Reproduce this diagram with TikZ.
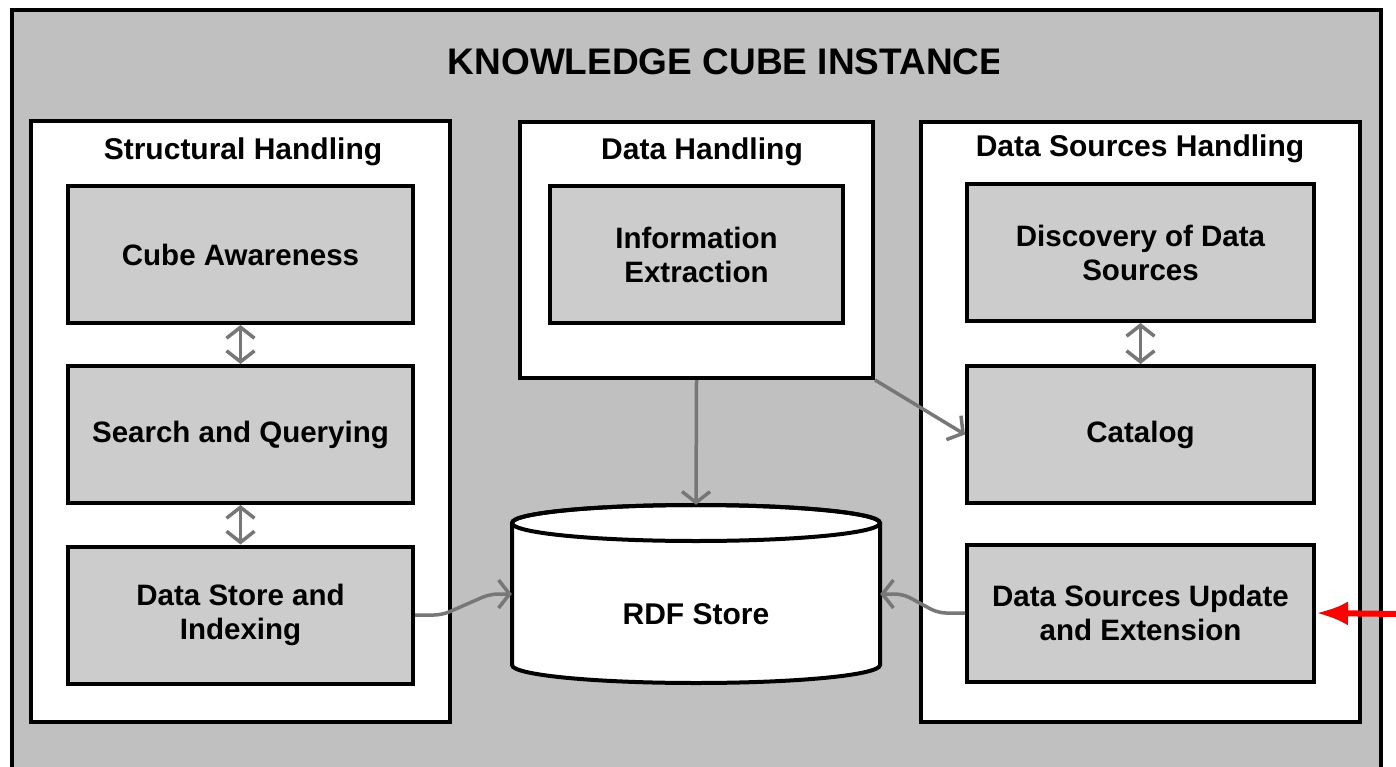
\documentclass[tikz,border=0pt]{standalone}
\usepackage{fontspec}
\setmainfont{Liberation Sans}
\usetikzlibrary{arrows.meta,positioning}
\definecolor{outergrey}{HTML}{C0C0C0}
\definecolor{boxgrey}{HTML}{CCCCCC}
\definecolor{linkgrey}{HTML}{777777}
\tikzset{%
	panel/.style  = {draw, line width=4pt, fill=white, inner sep=0pt},
	module/.style = {draw, line width=4pt, fill=boxgrey, inner sep=0pt, minimum height=137pt, align=center, font=\fontsize{29.5}{34}\selectfont\bfseries},
	head/.style   = {font=\fontsize{30}{34}\selectfont\bfseries},
	bigtitle/.style = {font=\fontsize{37}{44}\selectfont\bfseries},
	barb/.tip     = {Straight Barb[length=11pt,width=28pt]},
	link/.style   = {draw=linkgrey, line width=3.5pt, -barb},
	dlink/.style  = {draw=linkgrey, line width=3.5pt, barb-barb},
	feed/.style   = {draw=red, line width=6pt, -{Latex[length=32pt,width=24pt]}},
}
\begin{document}
\begin{tikzpicture}[x=1pt,y=-1pt]
	\useasboundingbox (0,0) rectangle (1396,767);
	\clip (0,0) rectangle (1396,767);
	% outer frame
	\draw[line width=4pt, fill=outergrey] (12,10) rectangle (1381,800);
	\begin{scope}
		\clip (430,20) rectangle (998,100);
		\node[bigtitle] (title) at (726,62) {KNOWLEDGE CUBE INSTANCE};
	\end{scope}
	% panels
	\node[panel, minimum width=419pt, minimum height=601pt] (sh) at (240.5,421.5) {};
	\node[panel, minimum width=353pt, minimum height=256pt] (dh) at (696.5,250) {};
	\node[panel, minimum width=439pt, minimum height=600pt] (dsh) at (1140.5,422) {};
	\node[head] at (243,152) {Structural Handling};
	\node[head] at (702,152) {Data Handling};
	\node[head] at (1140,149) {Data Sources Handling};
	% modules
	\node[module, minimum width=345pt] (cube) at (240.5,254.5) {Cube Awareness};
	\node[module, minimum width=345pt] (search) at (240.5,434.5) {Search and Querying};
	\node[module, minimum width=345pt] (store) at (240.5,615) {Data Store and\\Indexing};
	\node[module, minimum width=293pt] (extract) at (696.5,254.5) {Information\\Extraction};
	\node[module, minimum width=347pt] (discovery) at (1140.5,252.5) {Discovery of Data\\Sources};
	\node[module, minimum width=347pt] (catalog) at (1140.5,434.5) {Catalog};
	\node[module, minimum width=347pt] (update) at (1140.5,613) {Data Sources Update\\and Extension};
	% rdf store
	\draw[line width=4pt, fill=white] (512,523) -- (512,665) arc[start angle=180, end angle=0, x radius=184, y radius=18] -- (880,523) arc[start angle=0, end angle=-180, x radius=184, y radius=18] -- cycle;
	\draw[line width=4pt] (696,523) ellipse [x radius=184, y radius=18];
	\node[minimum width=368pt, minimum height=178pt, inner sep=0pt] (rdf) at (696,594) {};
	\node[head] at (696,614) {RDF Store};
	% connectors
	\draw[dlink] (cube) -- (search);
	\draw[dlink] (search) -- (store);
	\draw[dlink] (discovery) -- (catalog);
	\draw[link] (dh.south) -- (rdf.north);
	\draw[link] (dh.south east) -- (catalog.west);
	\draw[link, rounded corners=8pt] (store.east) -- ++(27,0) -- (490,594) -- (rdf.west);
	\draw[link, rounded corners=8pt] (update.west) -- ++(-27,0) -- (903,594) -- (rdf.east);
	\coordinate (feedin) at (1400,614);
	\draw[feed] (feedin) -- (update.east);
\end{tikzpicture}
\end{document}
